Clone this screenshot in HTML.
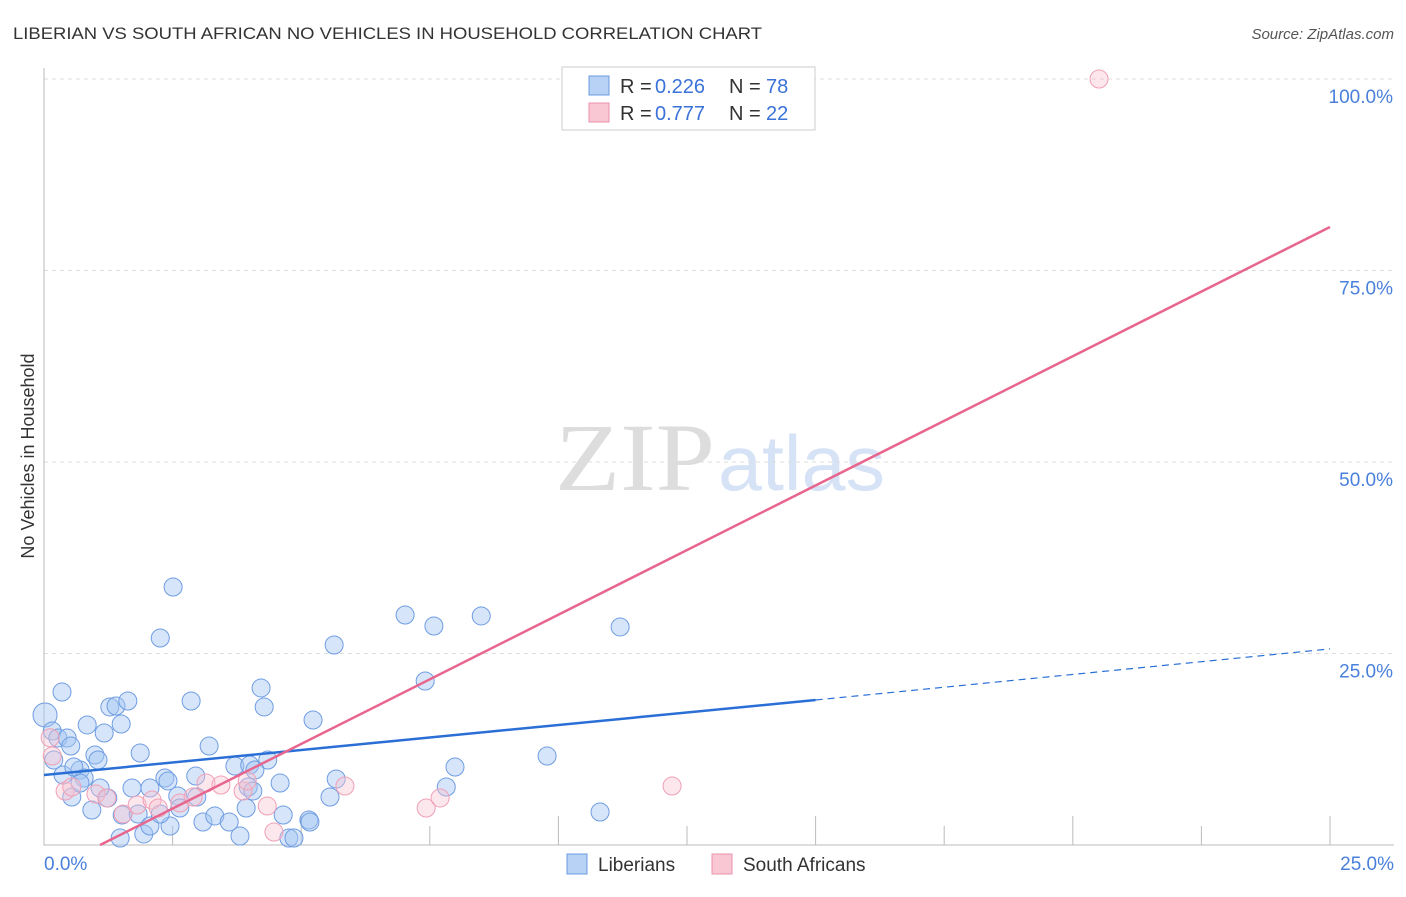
<!DOCTYPE html>
<html><head><meta charset="utf-8"><style>
body{margin:0;background:#fff;font-family:"Liberation Sans",sans-serif}
svg text{font-family:"Liberation Sans",sans-serif}
</style></head><body>
<svg width="1406" height="892" xmlns="http://www.w3.org/2000/svg">
<text x="13" y="39" font-size="17" fill="#333" textLength="749" lengthAdjust="spacingAndGlyphs">LIBERIAN VS SOUTH AFRICAN NO VEHICLES IN HOUSEHOLD CORRELATION CHART</text>
<text x="1394" y="39" font-size="15" fill="#555" font-style="italic" text-anchor="end">Source: ZipAtlas.com</text>
<text x="34" y="456" font-size="18" fill="#333" transform="rotate(-90 34 456)" text-anchor="middle">No Vehicles in Household</text>
<text x="555" y="490" font-size="96" fill="#ddd" textLength="160" lengthAdjust="spacingAndGlyphs" style="font-family:'Liberation Serif',serif">ZIP</text>
<text x="718" y="490" font-size="78" fill="#d6e2f5" textLength="167" lengthAdjust="spacingAndGlyphs">atlas</text>
<g id="grid"></g><g id="axes"></g><g id="pts"></g><g id="trend"></g>
<g>
<rect x="562" y="67" width="253" height="63" fill="#fff" stroke="#ccc"/>
<rect x="589" y="76" width="20" height="19" fill="#b8d2f5" stroke="#6a9be0"/>
<rect x="589" y="103" width="20" height="19" fill="#f9c6d3" stroke="#eb92ab"/>
<text x="620" y="93" font-size="20" fill="#333">R =</text><text x="655" y="93" font-size="20" fill="#3a72d8">0.226</text>
<text x="729" y="93" font-size="20" fill="#333">N =</text><text x="766" y="93" font-size="20" fill="#3a72d8">78</text>
<text x="620" y="120" font-size="20" fill="#333">R =</text><text x="655" y="120" font-size="20" fill="#3a72d8">0.777</text>
<text x="729" y="120" font-size="20" fill="#333">N =</text><text x="766" y="120" font-size="20" fill="#3a72d8">22</text>
</g>
<g>
<rect x="567" y="854" width="20" height="20" fill="#b8d2f5" stroke="#6a9be0"/>
<text x="598" y="871" font-size="19" fill="#333">Liberians</text>
<rect x="712" y="854" width="20" height="20" fill="#f9c6d3" stroke="#eb92ab"/>
<text x="743" y="871" font-size="19" fill="#333">South Africans</text>
</g>
</svg>
<script>
const blueX=[0.02,0.35,0.16,0.27,0.45,0.52,0.19,0.37,0.54,0.70,0.78,0.70,0.84,0.93,0.99,1.05,1.17,1.28,1.40,1.50,1.63,1.87,2.06,2.26,2.51,2.35,2.41,2.60,2.86,2.95,3.21,3.09,3.32,3.60,3.81,3.71,4.00,3.97,3.93,4.22,4.28,4.35,4.59,4.65,4.76,5.15,5.23,5.56,5.64,5.68,7.02,7.58,7.41,7.82,7.99,8.50,9.78,10.81,11.20,1.24,1.52,1.71,1.83,1.94,2.06,2.45,2.64,2.97,1.48,1.09,0.58,2.26,4.06,4.86,4.10,5.17];
const blueY=[16.97,19.97,14.88,13.97,13.97,12.92,11.10,9.14,6.27,9.79,8.75,8.09,15.67,4.57,11.75,11.10,14.62,18.02,18.15,15.80,18.80,12.01,7.44,27.02,33.68,8.75,8.36,6.40,18.80,9.01,12.92,3.00,3.79,3.00,1.17,10.31,10.44,7.57,4.83,20.50,18.02,11.10,8.09,3.92,0.91,3.26,16.32,6.27,26.11,8.62,30.03,28.59,21.41,7.57,10.18,29.90,11.62,4.31,28.46,6.14,3.92,7.44,4.05,1.44,2.48,2.48,4.83,6.27,0.91,7.44,10.18,4.05,7.05,0.91,9.79,3.00];
const pinkX=[0.12,0.16,0.41,0.54,1.01,1.22,1.54,1.81,2.10,2.22,2.64,2.90,3.15,3.44,3.87,3.95,4.34,4.47,5.85,7.43,7.70,12.21,20.51];
const pinkY=[14.0,11.62,7.05,7.57,6.66,6.14,4.05,5.22,5.87,4.83,5.48,6.27,8.09,7.83,7.05,8.36,5.09,1.70,7.70,4.83,6.14,7.70,100];
const blueTrend=[[0,9.14],[15,18.93]];
const blueDash=[[15,18.93],[25,25.6]];
const pinkTrend=[[1.09,0],[25,80.68]];
const yTicks=[25,50,75,100];
const yTickLabels=["25.0%","50.0%","75.0%","100.0%"];
const xTicks=[2.5,5,7.5,10,12.5,15,17.5,20,22.5,25];
const NS="http://www.w3.org/2000/svg";
const X=v=>44+v/25*1286, Y=v=>845-v/100*766;
function mk(t,a,p){const e=document.createElementNS(NS,t);for(const k in a)e.setAttribute(k,a[k]);p.appendChild(e);return e;}
const grid=document.getElementById('grid'),axes=document.getElementById('axes'),pts=document.getElementById('pts'),tr=document.getElementById('trend');
yTicks.forEach((v,i)=>{
 const l=mk('line',{x1:44,x2:1394,y1:Y(v),y2:Y(v),stroke:'#ddd','stroke-dasharray':'4,4'},grid);
 
 
 const t=mk('text',{x:1393,y:Y(v)+24,'font-size':19,fill:'#4a80dc','text-anchor':'end'},axes);
 t.textContent=yTickLabels[i];
 
 
});
const ax=mk('path',{d:'M44 68V845H1394',stroke:'#bbb',fill:'none'},axes);


xTicks.forEach(v=>{
 const l=mk('line',{x1:X(v),x2:X(v),y1:845,y2:v%5==0?816:826,stroke:'#bbb'},axes);
 
 
});
[[44,'start','0.0%'],[1394,'end','25.0%']].forEach(a=>{
 const t=mk('text',{x:a[0],y:870,'font-size':19,fill:'#4a80dc','text-anchor':a[1]},axes);t.textContent=a[2];
 
 
});
blueX.forEach((x,i)=>{
 const c=mk('circle',{cx:X(x),cy:Y(blueY[i]),r:i==0?12:9,fill:'rgba(165,198,242,0.45)',stroke:'#6f9de2','stroke-width':1},pts);
 
 
});
pinkX.forEach((x,i)=>{
 const c=mk('circle',{cx:X(x),cy:Y(pinkY[i]),r:9,fill:'rgba(248,195,210,0.4)',stroke:'#efa0b6','stroke-width':1},pts);
 
 
});
const bl=mk('line',{x1:X(blueTrend[0][0]),y1:Y(blueTrend[0][1]),x2:X(blueTrend[1][0]),y2:Y(blueTrend[1][1]),stroke:'#2a6fd6','stroke-width':2.5},tr);


const bd=mk('line',{x1:X(blueDash[0][0]),y1:Y(blueDash[0][1]),x2:X(blueDash[1][0]),y2:Y(blueDash[1][1]),stroke:'#2a6fd6','stroke-width':1.2,'stroke-dasharray':'7,5'},tr);


const pl=mk('line',{x1:X(pinkTrend[0][0]),y1:Y(pinkTrend[0][1]),x2:X(pinkTrend[1][0]),y2:Y(pinkTrend[1][1]),stroke:'#e8658e','stroke-width':2.5},tr);


</script>
</body></html>
